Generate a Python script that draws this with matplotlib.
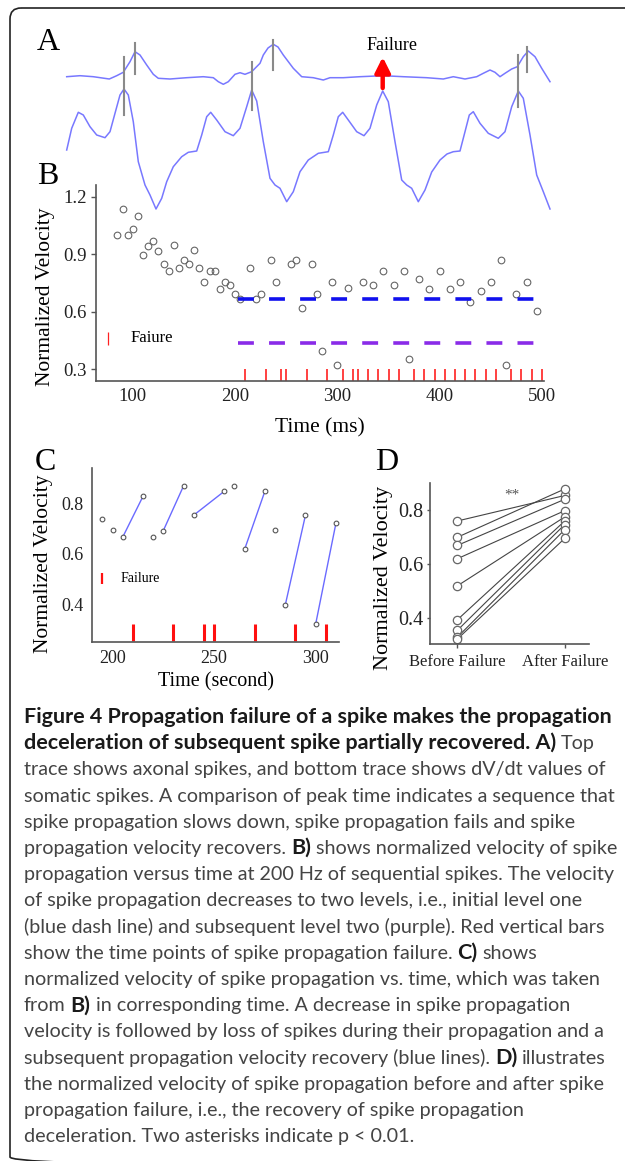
import matplotlib
matplotlib.use("Agg")
import matplotlib.pyplot as plt
from matplotlib.patches import FancyBboxPatch

W, H = 625, 1161
SERIF = "Liberation Serif"
CAP_FONT = "Lato"

# ---- panel A: traces (time, height on screen; arbitrary units)
axon_t = [66.7, 80, 93.3, 109.3, 116.7, 123.3, 130, 135, 140, 146.7, 153.3, 158.3, 170,
          186.7, 203.3, 213.3, 218.3, 223.3, 228.3, 235, 240, 245, 251.7, 260, 263.3, 268,
          273.3, 278, 283.3, 293.3, 301.7, 313.3, 323.3, 330, 343.3, 360, 383.3, 403.3,
          426.7, 443.3, 453.3, 465, 476.7, 483.3, 490, 495, 500, 505, 511.7, 517.3, 523.3,
          528.3, 535, 541.7, 550]
axon_v = [76.7, 75.7, 76.7, 79, 75.7, 72.3, 61.7, 51.7, 55, 65, 74.3, 78.3, 79,
          77.7, 76.7, 77.7, 81.7, 84.3, 81.7, 74.3, 72.7, 74.3, 71.7, 63.3, 55, 48,
          44.3, 47, 55, 68.3, 76.7, 77.7, 80, 77.7, 77.7, 76.7, 75.7, 76.7,
          77.7, 79, 76.7, 79, 76.7, 73.3, 70, 72.3, 76.7, 73.3, 69, 66.7, 56.7,
          51, 56.7, 68.3, 81.7]

soma_t = [66.7, 71.7, 78.3, 83.3, 90, 96.7, 105, 110, 115, 120, 124, 128.3, 133.3, 138.3,
          145, 150, 156, 161.7, 166.7, 173.3, 181.7, 188.3, 196.7, 201.7, 206.7, 210.7,
          216.7, 225, 233.3, 240, 246.7, 251.7, 256.7, 263.3, 270, 275, 280, 286.7, 293.3,
          300, 308.3, 318.3, 328.3, 333.3, 338.3, 342.7, 348.3, 356.7, 364, 370, 376.7,
          382.7, 388.3, 395, 401.7, 406.7, 411.7, 418.3, 425, 431.7, 440, 447, 453.3, 460,
          465, 469.3, 473.3, 480, 488.3, 498.3, 505, 511.7, 518.3, 523.3, 530, 536.7,
          543.3, 550]
soma_v = [150, 128.3, 112.3, 115, 126.7, 135, 137.7, 131.7, 113.3, 95, 89, 95, 121.7, 161.7,
          185, 195, 209, 198.3, 181.7, 166.7, 156.7, 152.3, 151, 135, 116.7, 112.3,
          120, 131.7, 135.7, 128.3, 106.7, 90, 101, 141.7, 178.3, 185, 188.3, 201.7, 191.7,
          171.7, 160, 153.3, 151.7, 135, 116.7, 112.3, 120, 131.7, 135.7, 128.3, 105,
          91, 101.7, 141.7, 180, 185, 188.3, 201.7, 190, 172, 160, 154, 151.7, 151,
          131.7, 115, 111.7, 123.3, 133.3, 138.3, 131.7, 106.7, 91, 98.3, 135, 175,
          191.7, 209]

axon_marks = [(135, 43, 74), (273.3, 40, 70), (526.7, 46.7, 71.7)]
soma_marks = [(124, 56.7, 115), (251.7, 61.7, 110), (518.3, 55, 106.7)]
failure_t = 382.7

# ---- panel B: normalized velocity vs time (ms)
b_time = [85, 90, 95, 100, 105, 110, 115, 120, 125, 130, 135, 140, 145, 150, 155, 160,
          165, 170, 175, 180, 185, 190, 195, 200, 205, 215, 220, 225, 235, 240, 255, 260,
          265, 275, 280, 285, 295, 300, 310, 325, 335, 345, 355, 365, 370, 380, 390, 400,
          410, 420, 430, 440, 450, 460, 465, 475, 485, 495]
b_vel = [1.0, 1.134, 1.0, 1.031, 1.097, 0.895, 0.942, 0.970, 0.918, 0.850, 0.810, 0.946,
         0.829, 0.871, 0.850, 0.920, 0.829, 0.754, 0.810, 0.810, 0.721, 0.754, 0.74, 0.695,
         0.667, 0.83, 0.667, 0.693, 0.872, 0.755, 0.85, 0.872, 0.618, 0.85, 0.694, 0.395,
         0.755, 0.32, 0.723, 0.754, 0.737, 0.810, 0.737, 0.810, 0.352, 0.772, 0.721, 0.810,
         0.721, 0.754, 0.653, 0.707, 0.754, 0.871, 0.324, 0.692, 0.754, 0.606]
fail_times = [210, 230, 245, 250, 270, 290, 305, 315, 320, 330, 340, 350, 360, 375, 385,
              395, 405, 415, 425, 435, 445, 455, 470, 480, 490, 500]
level_one = 0.664
level_two = 0.436
level_start, level_end = 203, 497

# ---- panel C: window of B, with recovery pairs (before failure, after failure)
c_window = (192, 312)
c_pairs = [(205, 215), (225, 235), (240, 255), (265, 275), (285, 295), (300, 310)]

# ---- panel D: before / after failure
d_labels = ["Before Failure", "After Failure"]
d_before = [0.758, 0.698, 0.668, 0.619, 0.519, 0.394, 0.355, 0.330, 0.323]
d_after = [0.852, 0.876, 0.838, 0.796, 0.773, 0.758, 0.745, 0.726, 0.694]

caption = [
    [("Figure 4 Propagation failure of a spike makes the propagation", True)],
    [("deceleration of subsequent spike partially recovered. A)", True), ("Top", False)],
    [("trace shows axonal spikes, and bottom trace shows dV/dt values of", False)],
    [("somatic spikes. A comparison of peak time indicates a sequence that", False)],
    [("spike propagation slows down, spike propagation fails and spike", False)],
    [("propagation velocity recovers.", False), ("B)", True), ("shows normalized velocity of spike", False)],
    [("propagation versus time at 200 Hz of sequential spikes. The velocity", False)],
    [("of spike propagation decreases to two levels, i.e., initial level one", False)],
    [("(blue dash line) and subsequent level two (purple). Red vertical bars", False)],
    [("show the time points of spike propagation failure.", False), ("C)", True), ("shows", False)],
    [("normalized velocity of spike propagation vs. time, which was taken", False)],
    [("from", False), ("B)", True), ("in corresponding time. A decrease in spike propagation", False)],
    [("velocity is followed by loss of spikes during their propagation and a", False)],
    [("subsequent propagation velocity recovery (blue lines).", False), ("D)", True), ("illustrates", False)],
    [("the normalized velocity of spike propagation before and after spike", False)],
    [("propagation failure, i.e., the recovery of spike propagation", False)],
    [("deceleration. Two asterisks indicate p < 0.01.", False)],
]

TRACE = "#7878ff"
SPINE = "#555555"

fig = plt.figure(figsize=(W / 100, H / 100), dpi=100)
fig.patch.set_facecolor("white")

# pixel overlay: border, panel A, letters, caption
ax_px = fig.add_axes([0, 0, 1, 1])
ax_px.set_xlim(0, W)
ax_px.set_ylim(H, 0)
ax_px.axis("off")
ax_px.add_patch(FancyBboxPatch((10, 8), 650, 1160, boxstyle="round,pad=0,rounding_size=11",
                               fill=False, ec="#222222", lw=1.2))

ax_px.plot(axon_t, axon_v, color=TRACE, lw=1.1)
ax_px.plot(soma_t, soma_v, color=TRACE, lw=1.1)
for x, y0, y1 in axon_marks + soma_marks:
    ax_px.plot([x, x], [y0, y1], color="#8a8a8a", lw=1.5)
ax_px.annotate("", xy=(failure_t, 57), xytext=(failure_t, 88),
               arrowprops=dict(arrowstyle="-|>,head_length=0.9,head_width=0.45",
                               color="red", lw=3.2, shrinkA=0, shrinkB=0))
ax_px.text(failure_t + 9, 46, "Failure", family=SERIF, fontsize=13, ha="center", va="center")

for letter, x, y in [("A", 37, 50), ("B", 37, 184), ("C", 35, 470), ("D", 375, 470)]:
    ax_px.text(x, y, letter, family=SERIF, fontsize=23, va="baseline", ha="left")


def box(l, t, r, b):
    a = fig.add_axes([l / W, 1 - b / H, (r - l) / W, (b - t) / H])
    a.set_facecolor("none")
    for s in ("top", "right"):
        a.spines[s].set_visible(False)
    for s in ("left", "bottom"):
        a.spines[s].set_color(SPINE)
        a.spines[s].set_linewidth(1.2)
    return a


def serif_ticks(a, size):
    for lab in a.get_xticklabels() + a.get_yticklabels():
        lab.set_family(SERIF)
        lab.set_fontsize(size)
        lab.set_color("#222222")


# ---- B
ax_b = box(96, 185, 544, 381)
ax_b.set_xlim(64, 502)
ax_b.set_ylim(0.239, 1.261)
ax_b.plot(b_time, b_vel, "o", mfc="none", mec="#666666", mew=0.8, ms=4.8)
ax_b.plot([level_start, level_end], [level_one, level_one], color="#1010ee", lw=2.6,
          dashes=(4.4, 4.2))
ax_b.plot([level_start, level_end], [level_two, level_two], color="#8a2be8", lw=2.6,
          dashes=(4.4, 4.2))
ax_b.vlines(fail_times, 0.241, 0.303, color="#ff2020", lw=1.2)
ax_b.vlines([75.5], 0.425, 0.495, color="#ff2020", lw=0.9)
ax_b.text(98, 0.463, "Faiure", family=SERIF, fontsize=12, va="center")
ax_b.set_xticks([100, 200, 300, 400, 500])
ax_b.set_yticks([0.3, 0.6, 0.9, 1.2])
ax_b.tick_params(axis="y", length=3.5, width=1, color=SPINE, pad=3)
ax_b.tick_params(axis="x", length=0, pad=5)
serif_ticks(ax_b, 13.5)
ax_b.set_xlabel("Time (ms)", family=SERIF, fontsize=15.5)
ax_b.set_ylabel("Normalized Velocity", family=SERIF, fontsize=15.5)
ax_b.xaxis.set_label_coords(0.5, -0.19)
ax_b.yaxis.set_label_coords(-0.092, 0.43)

# ---- C
ax_c = box(92, 468, 339, 642)
ax_c.set_xlim(189.9, 311.5)
ax_c.set_ylim(0.249, 0.943)
c_t = [t for t in b_time if c_window[0] <= t <= c_window[1]]
c_v = [v for t, v in zip(b_time, b_vel) if c_window[0] <= t <= c_window[1]]
vel_at = dict(zip(b_time, b_vel))
for t0, t1 in c_pairs:
    ax_c.plot([t0, t1], [vel_at[t0], vel_at[t1]], color="#6a6aff", lw=1.0)
ax_c.plot(c_t, c_v, "o", mfc="white", mec="#555555", mew=0.8, ms=3.4)
c_fail = [t for t in fail_times if c_window[0] <= t <= c_window[1]]
ax_c.vlines(c_fail, 0.251, 0.32, color="#ff1010", lw=2.2)
ax_c.vlines([195], 0.48, 0.525, color="#ff1010", lw=1.6)
ax_c.text(204, 0.503, "Failure", family=SERIF, fontsize=10, va="center")
ax_c.set_xticks([200, 250, 300])
ax_c.set_yticks([0.4, 0.6, 0.8])
ax_c.tick_params(axis="both", length=0, pad=6)
serif_ticks(ax_c, 13)
ax_c.set_xlabel("Time (second)", family=SERIF, fontsize=14.5)
ax_c.set_ylabel("Normalized Velocity", family=SERIF, fontsize=15.5)
ax_c.xaxis.set_label_coords(0.5, -0.175)
ax_c.yaxis.set_label_coords(-0.158, 0.448)

# ---- D
ax_d = box(430, 483, 589, 644)
ax_d.set_xlim(-0.254, 1.226)
ax_d.set_ylim(0.305, 0.898)
for v0, v1 in zip(d_before, d_after):
    ax_d.plot([0, 1], [v0, v1], color="#444444", lw=0.8)
ax_d.plot([0] * len(d_before), d_before, "o", mfc="white", mec="#666666", mew=0.9, ms=6)
ax_d.plot([1] * len(d_after), d_after, "o", mfc="white", mec="#666666", mew=0.9, ms=6)
ax_d.text(0.505, 0.853, "**", family=SERIF, fontsize=11, color="#555555",
          ha="center", va="center")
ax_d.set_xticks([0, 1])
ax_d.set_xticklabels(d_labels)
ax_d.set_yticks([0.4, 0.6, 0.8])
ax_d.tick_params(axis="x", length=3, width=1, color=SPINE, pad=4)
ax_d.tick_params(axis="y", length=2, width=1, color=SPINE, pad=3)
serif_ticks(ax_d, 14.5)
for lab in ax_d.get_xticklabels():
    lab.set_fontsize(12)
ax_d.set_ylabel("Normalized Velocity", family=SERIF, fontsize=16)
ax_d.yaxis.set_label_coords(-0.233, 0.41)

# ---- caption
renderer = fig.canvas.get_renderer()


def text_w(s, size, bold):
    t = ax_px.text(0, 0, s, family=CAP_FONT, fontsize=size,
                   fontweight="bold" if bold else "normal")
    w = t.get_window_extent(renderer).width
    t.remove()
    return w


reg_size = 10 * 592 / text_w(caption[3][0][0], 10, False)
bold_size = 10 * 588 / text_w(caption[0][0][0], 10, True)
sizes = {False: reg_size, True: bold_size}
space = {b: text_w("a a", sizes[b], b) - text_w("aa", sizes[b], b) for b in (False, True)}

y = 723
for parts in caption:
    x = 24
    for i, (s, bold) in enumerate(parts):
        if i > 0:
            x += space[False]
        ax_px.text(x, y, s, family=CAP_FONT, fontsize=sizes[bold],
                   fontweight="bold" if bold else "normal",
                   color="#1a1a1a" if bold else "#444444", va="baseline", ha="left")
        x += text_w(s, sizes[bold], bold)
    y += 26.2

fig.savefig("out.png", dpi=100)
